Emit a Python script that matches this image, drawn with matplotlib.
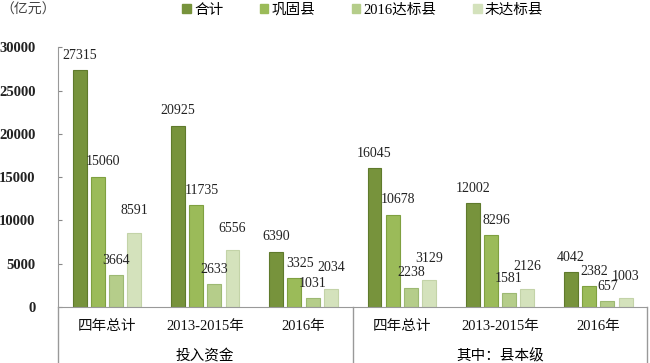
import matplotlib
matplotlib.use("Agg")
import matplotlib.pyplot as plt
from matplotlib.patches import Patch
import numpy as np

plt.rcParams['font.family'] = ['Liberation Serif', 'Noto Sans CJK SC']

# Data
categories = ["四年总计", "2013-2015年", "2016年", "四年总计", "2013-2015年", "2016年"]
groups = ["投入资金", "其中：县本级"]
series_names = ["合计", "巩固县", "2016达标县", "未达标县"]
total      = [27315, 20925, 6390, 16045, 12002, 4042]
consolid   = [15060, 11735, 3325, 10678, 8296, 2382]
reached16  = [3664, 2633, 1031, 2238, 1581, 657]
notreached = [8591, 6556, 2034, 3129, 2126, 1003]
yticks = [0, 5000, 10000, 15000, 20000, 25000, 30000]

colors = ["#77933C", "#9BBB59", "#B5CD8A", "#D4E2BC"]
edges  = ["#5F7A2C", "#7FA040", "#9DB973", "#C3D3A8"]

fig = plt.figure(figsize=(6.5, 3.63), dpi=100)
ax = fig.add_axes([0.089, 0.154, 0.907, 0.716])

x = np.arange(len(categories))
width = 0.142
pitch = 0.185
all_series = [total, consolid, reached16, notreached]
for i, vals in enumerate(all_series):
    pos = x + (i - 1.5) * pitch
    ax.bar(pos, vals, width, color=colors[i], edgecolor=edges[i], linewidth=0.8)
    # labels of the 2nd series sit a bit to the right, like the original
    dx = 4 if i == 1 else 0
    # the last series is nudged up a little so the small labels don't collide
    dy = 11 if i == 3 else 6
    for px, v in zip(pos, vals):
        ax.annotate(str(v), (px, v), xytext=(dx, dy), textcoords="offset points",
                    ha="center", va="bottom", fontsize=10, color="#222222")

ax.set_xlim(-0.5, 5.5)
ax.set_ylim(0, 30000)
ax.set_yticks(yticks)
ax.set_yticklabels([str(t) for t in yticks], fontsize=10.5, fontweight="bold", color="#222222")
ax.tick_params(axis="y", direction="in", length=3, pad=16, color="#888888")
ax.set_xticks(x)
ax.set_xticklabels(categories, fontsize=10.5, color="#111111")
ax.tick_params(axis="x", length=0, pad=9)

for s in ["top", "right"]:
    ax.spines[s].set_visible(False)
ax.spines["left"].set_color("#999999")
ax.spines["bottom"].set_color("#999999")

# separators under the axis
trans = ax.get_xaxis_transform()
for sx in [-0.5, 2.5, 5.5]:
    ax.plot([sx, sx], [0, -0.23], transform=trans, color="#999999", lw=1, clip_on=False)
for gi, g in enumerate(groups):
    ax.text(1 + 3 * gi, -0.19, g, transform=trans, ha="center", va="center", fontsize=10.5)

fig.text(0.0, 0.972, "（亿元）", ha="left", va="center", fontsize=10, color="#444444")

handles = [Patch(facecolor=c, edgecolor=c) for c in colors]
fig.legend(handles, series_names, loc="center", bbox_to_anchor=(0.558, 0.972), ncol=4,
           frameon=False, fontsize=10.5, handlelength=0.6, handleheight=0.6,
           handletextpad=0.2, columnspacing=2.5)

fig.savefig("out.png", dpi=100)
